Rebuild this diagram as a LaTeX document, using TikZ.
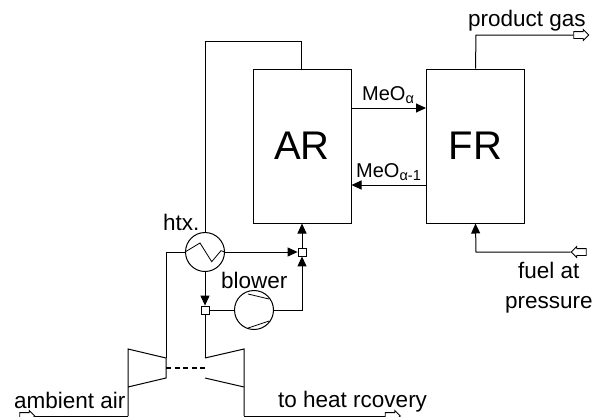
\documentclass[tikz,border=0pt]{standalone}
\usepackage{fontspec}
\setmainfont{Liberation Sans}
\usetikzlibrary{shapes.arrows,arrows.meta}
\tikzset{reactor node/.style={rectangle, draw, line width=1pt, inner sep=0pt, minimum width=98pt, minimum height=154pt, font=\fontsize{40}{40}\selectfont}}
\tikzset{unit node/.style={circle, draw, line width=1pt, inner sep=0pt, minimum size=39pt}}
\tikzset{junction node/.style={rectangle, draw, line width=0.8pt, fill=white, inner sep=0pt, minimum size=8pt}}
\tikzset{port node/.style={single arrow, draw, fill=white, line width=0.9pt, inner xsep=0pt, inner ysep=3pt, minimum height=15pt, single arrow head extend=2pt, single arrow head indent=0pt}}
\tikzset{label node/.style={anchor=base west, inner sep=0pt, text=black, font=\fontsize{22.5}{26}\selectfont}}
\tikzset{stream label/.style={anchor=base west, inner sep=0pt, text=black, font=\fontsize{20}{22}\selectfont}}
\tikzset{regular edge/.style={draw=black, line width=1pt}}
\tikzset{flow edge/.style={regular edge, -{Triangle[length=10pt,width=9pt]}}}
\newcommand{\subtext}[1]{\raisebox{-3.5pt}{\fontsize{14.5}{14.5}\selectfont #1}}
\begin{document}
\begin{tikzpicture}
      [x=1pt, y=-1pt]
      \useasboundingbox (0,0) rectangle (598,416);

      \node [reactor node]   (ar)    at (302,146) {AR};
      \node [reactor node]   (fr)    at (475.5,146) {FR};
      \node [unit node]      (htx)   at (205,252) {};
      \node [unit node]      (blow)  at (254,310) {};
      \node [junction node]  (jtop)  at (302,252) {};
      \node [junction node]  (jlow)  at (205,310) {};

      \node [port node]            (pgas)  at (579.5,35) {};
      \node [port node, rotate=180] (pfuel) at (580.5,252) {};
      \node [port node]            (pair)  at (25.5,416) {};
      \node [port node]            (pheat) at (391,416) {};

      \coordinate (compout)  at (166,358);
      \coordinate (turbin)   at (205,358);
      \coordinate (shaftl)   at (166,368);
      \coordinate (shaftr)   at (205,368);

      % compressor and turbine
      \draw [regular edge] (128,416) -- (128,349) -- (compout) -- (166,378) -- (128,387);
      \draw [regular edge] (turbin) -- (244,349) -- (244,416);
      \draw [regular edge] (205,378) -- (244,387);
      \draw [regular edge, line width=1.8pt, dash pattern=on 5pt off 3.5pt] (shaftl) -- (shaftr);
      \draw [regular edge] (128,416.8) -- (pair.tip |- 0,416.8);
      \draw [regular edge] (244,416) -- (pheat.tail);

      % inside of the units
      \draw [regular edge, line width=0.8pt] (htx.west) -- (200,243) -- (211.7,261.7) -- (221,250.7) -- (htx.east);
      \draw [regular edge, line width=0.8pt] (248,294) -- (269,299);
      \draw [regular edge, line width=0.8pt] (248,328) -- (269,321);

      \draw [regular edge]  (htx.north) -- (205,41) -- (301,41) -- (301,69);
      \draw [regular edge]  (fr.north) -- (476,35) -- (pgas.tail);
      \draw [regular edge]  (htx.west) -- (166,252) -- (compout);
      \draw [flow edge]     (pfuel.tip) -- (476,252) -- (fr.south);
      \draw [flow edge]     (htx.east) -- (jtop.west);
      \draw [flow edge]     (htx.south) -- (jlow.north);
      \draw [flow edge]     (jtop.north) -- (ar.south);
      \draw [flow edge]     (blow.east) -- (302,310) -- (jtop.south);
      \draw [regular edge]  (jlow.east) -- (blow.west);
      \draw [regular edge]  (jlow.south) -- (turbin);
      \draw [flow edge]     (ar.east |- 0,108) -- (fr.west |- 0,108);
      \draw [flow edge]     (fr.west |- 0,185) -- (ar.east |- 0,185);

      \node [label node]  (lgas)   at (468,26)  {product gas};
      \node [label node]  (lhtx)   at (163,230) {htx.};
      \node [label node]  (lblow)  at (221,288) {blower};
      \node [label node]  (lfuel)  at (518,278) {fuel at};
      \node [label node]  (lpres)  at (505,308) {pressure};
      \node [label node]  (lair)   at (14,408)  {ambient air};
      \node [label node]  (lheat)  at (278,407) {to heat rcovery};
      \node [stream label] (lmeo)  at (362,100) {MeO\subtext{α}};
      \node [stream label] (lmeor) at (356,177) {MeO\subtext{α-1}};
    \end{tikzpicture}
\end{document}
